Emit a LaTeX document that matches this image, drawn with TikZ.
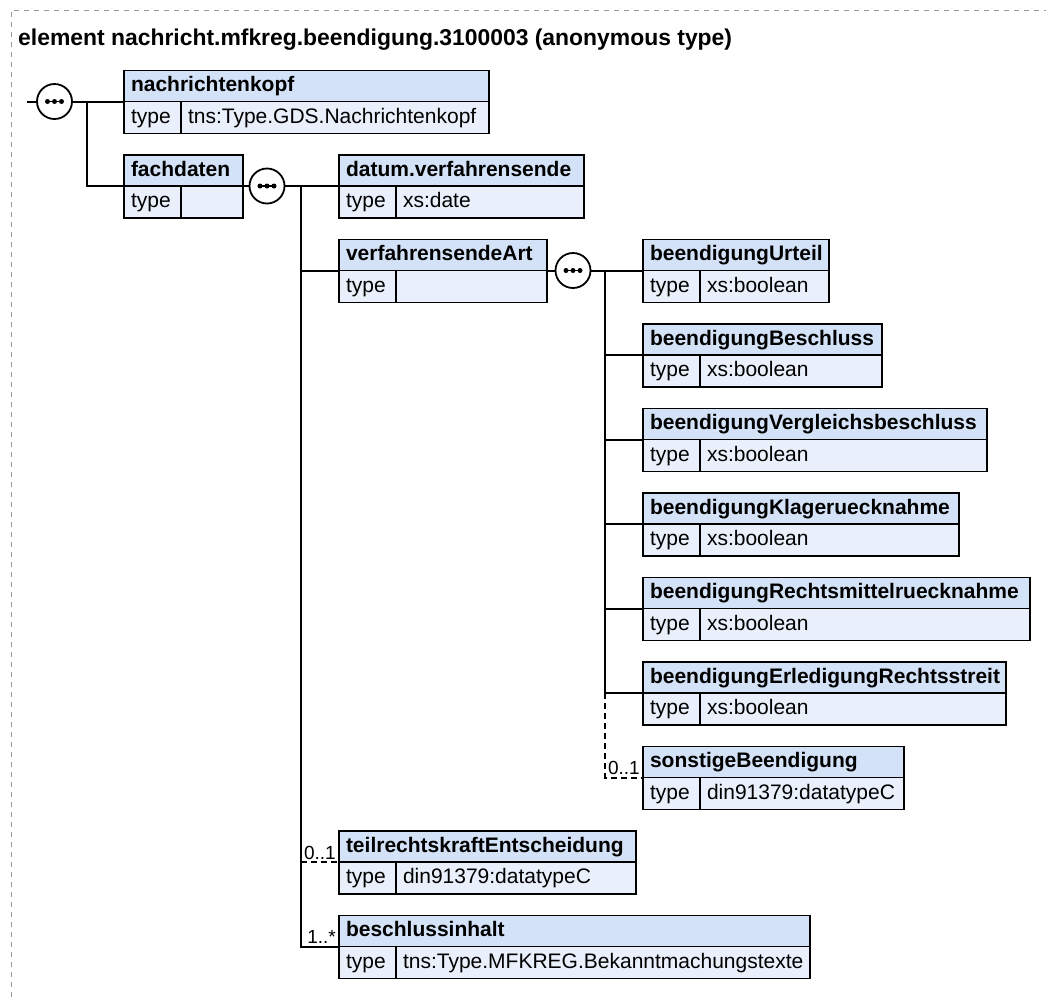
\documentclass[tikz,border=0pt]{standalone}
\usepackage{fontspec}
\setmainfont{Liberation Sans}
\usetikzlibrary{positioning}
\definecolor{hdrBlue}{HTML}{D4E2F7}
\definecolor{typBlue}{HTML}{E9F0FB}
\definecolor{frameGray}{HTML}{9A9A9A}
\tikzset{
  cell/.style={draw, line width=1.8pt, outer sep=0pt, inner xsep=7pt,
               inner ysep=0pt, anchor=north west, align=left,
               text height=15.5pt, text depth=4.5pt,
               font=\fontsize{21}{24}\selectfont},
  hdr/.style={cell, fill=hdrBlue, minimum height=31pt,
              font=\fontsize{21}{24}\selectfont\bfseries},
  typ/.style={cell, fill=typBlue, minimum height=32pt},
  seq/.style={circle, draw, line width=1.8pt, fill=white, minimum size=35pt,
              inner sep=0pt, outer sep=0pt},
  wire/.style={line width=2pt},
  % optional particles: dashed connector
  opt/.style={wire, dash pattern=on 6pt off 4pt},
  card/.style={font=\fontsize{19}{21}\selectfont, inner sep=0pt, anchor=base east},
  frame/.style={draw=frameGray, line width=0.8pt, dash pattern=on 5pt off 5pt},
}
% name, left, top, width, element name, type
\newcommand{\elem}[6]{%
  \pgfmathsetmacro\hdrw{#4-14}%
  \pgfmathsetmacro\valw{#4-57-14}%
  \node[hdr, text width=\hdrw pt] (#1) at (#2,#3) {\mbox{#5}};
  \node[typ, text width=43pt] (#1-k) at (#1.south west) {type};
  \node[typ, text width=\valw pt] (#1-v) at (#1-k.north east) {\mbox{#6}};
}
\newcommand{\seqdots}[1]{%
  \draw[line width=1.4pt] ([xshift=-9pt]#1.center) -- ([xshift=9pt]#1.center);
  \foreach \dx in {-7,0,7} \fill ([xshift=\dx pt]#1.center) circle (2.5pt);
}

\begin{document}
\begin{tikzpicture}[x=1pt, y=-1pt]
\useasboundingbox (0,0) rectangle (1046,997);

%% ── frame and title ──────────────────────────────────────────────────────
\draw[frame] (11,997) -- (11,10) -- (1046,10);
\node[anchor=base west, inner sep=0pt,
      font=\fontsize{22.9}{27}\selectfont\bfseries] (title) at (18,45)
  {element nachricht.mfkreg.beendigung.3100003 (anonymous type)};

%% ── elements ─────────────────────────────────────────────────────────────
\elem{nk}{124}{70.5}{365}{nachrichtenkopf}{tns:Type.GDS.Nachrichtenkopf}
\elem{fd}{124}{155}{119}{fachdaten}{}
\elem{dv}{339}{155}{245}{datum.verfahrensende}{xs:date}
\elem{va}{339}{239.5}{208}{verfahrensendeArt}{}
\elem{bu}{643}{239.5}{186}{beendigungUrteil}{xs:boolean}
\elem{bb}{643}{324}{239}{beendigungBeschluss}{xs:boolean}
\elem{bv}{643}{408.5}{344}{beendigungVergleichsbeschluss}{xs:boolean}
\elem{bk}{643}{493}{316}{beendigungKlageruecknahme}{xs:boolean}
\elem{br}{643}{577.5}{387}{beendigungRechtsmittelruecknahme}{xs:boolean}
\elem{be}{643}{662}{363}{beendigungErledigungRechtsstreit}{xs:boolean}
\elem{sb}{643}{746.5}{261}{sonstigeBeendigung}{din91379:datatypeC}
\elem{tr}{339}{831}{297}{teilrechtskraftEntscheidung}{din91379:datatypeC}
\elem{bi}{339}{915.5}{471}{beschlussinhalt}{tns:Type.MFKREG.Bekanntmachungstexte}

%% ── sequence compositors ─────────────────────────────────────────────────
\node[seq] (c1) at (54.5,101.5) {};
\node[seq] (c2) at (267,186) {};
\node[seq] (c3) at (573,270.5) {};
\seqdots{c1}
\seqdots{c2}
\seqdots{c3}

%% ── connectors ───────────────────────────────────────────────────────────
\coordinate (in) at (27,101.5);
\coordinate (b1) at (87,101.5);
\coordinate (b2) at (301,186);
\coordinate (b3) at (605,270.5);

\draw[wire] (in) -- (c1.west);
\draw[wire] (c1.east) -- (nk.south west);
\draw[wire] (b1) |- (fd.south west);

\draw[wire] (fd.south east) -- (c2.west);
\draw[wire] (c2.east) -- (dv.south west);
\draw[wire] (b2) |- (bi.south west);
\draw[wire] (b2 |- va.south west) -- (va.south west);
\draw[opt] (b2 |- tr.south west) -- (tr.south west);

\draw[wire] (va.south east) -- (c3.west);
\draw[wire] (c3.east) -- (bu.south west);
\draw[wire] (b3) -- (b3 |- be.south west);
\foreach \e in {bb,bv,bk,br,be}
  \draw[wire] (b3 |- \e.south west) -- (\e.south west);
\draw[opt] (b3 |- be.south west) |- (sb.south west);

%% ── occurrence labels ────────────────────────────────────────────────────
\node[card] (sb-n) at ([xshift=-3pt, yshift=3pt]sb.south west) {0..1};
\node[card] (tr-n) at ([xshift=-3pt, yshift=3pt]tr.south west) {0..1};
\node[card] (bi-n) at ([xshift=-3pt, yshift=3pt]bi.south west) {1..*};

\end{tikzpicture}
\end{document}
